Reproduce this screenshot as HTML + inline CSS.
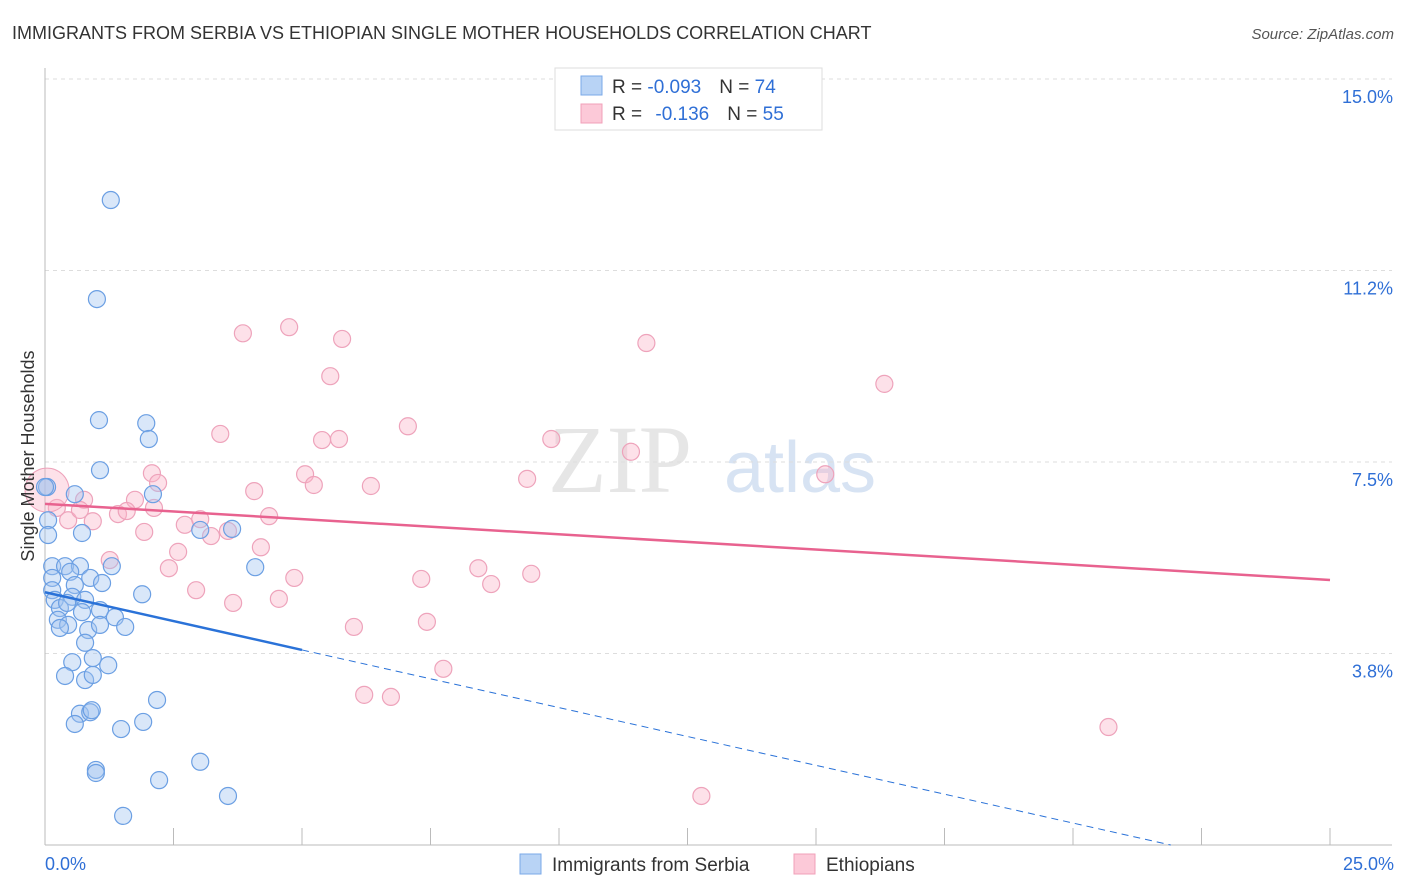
<!DOCTYPE html>
<html><head><meta charset="utf-8"><style>
body{margin:0;background:#fff;font-family:"Liberation Sans",sans-serif}
svg{display:block}
</style></head><body>
<svg width="1406" height="892">
<text x="12" y="39" font-size="18" fill="#333">IMMIGRANTS FROM SERBIA VS ETHIOPIAN SINGLE MOTHER HOUSEHOLDS CORRELATION CHART</text>
<text x="1394" y="39" font-size="15" fill="#555" font-style="italic" text-anchor="end">Source: ZipAtlas.com</text>
<text x="620" y="492" font-size="96" fill="#e6e6e6" font-family="Liberation Serif,serif" text-anchor="middle">ZIP</text>
<text x="800" y="492" font-size="72" fill="#d7e3f3" text-anchor="middle">atlas</text>
<g id="grid"></g>
<g id="axes"></g>
<g id="pts"></g>
<g id="trend"></g>
<text transform="translate(34,456) rotate(-90)" font-size="18" fill="#333" text-anchor="middle">Single Mother Households</text>
<g>
<rect x="555" y="68" width="267" height="62" fill="#fff" stroke="#ddd"/>
<rect x="581" y="76" width="21" height="19" fill="#b8d3f5" stroke="#7aa8e8"/>
<rect x="581" y="104" width="21" height="19" fill="#fcc9d8" stroke="#f1a0b9"/>
<text x="612" y="93" font-size="19" fill="#333">R = <tspan fill="#2f6fd6">-0.093</tspan><tspan dx="18">N = </tspan><tspan fill="#2f6fd6">74</tspan></text>
<text x="612" y="120" font-size="19" fill="#333">R = <tspan dx="8" fill="#2f6fd6">-0.136</tspan><tspan dx="18">N = </tspan><tspan fill="#2f6fd6">55</tspan></text>
</g>
<g>
<rect x="520" y="854" width="21" height="20" fill="#b8d3f5" stroke="#7aa8e8"/>
<text x="552" y="871" font-size="19" fill="#333">Immigrants from Serbia</text>
<rect x="794" y="854" width="21" height="20" fill="#fcc9d8" stroke="#f1a0b9"/>
<text x="826" y="871" font-size="19" fill="#333">Ethiopians</text>
</g>
</svg>
<script>
const yTicks=[3.75,7.5,11.25,15];
const yTickLabels=["3.8%","7.5%","11.2%","15.0%"];
const xTickLabels=["0.0%","25.0%"];
const serbiaX=[1.28,1.01,1.05,1.97,2.02,1.07,2.10,0.58,0.04,0.06,0.06,0.72,3.02,3.64,0.14,0.39,0.68,1.30,4.09,0.14,0.49,0.88,1.11,0.14,0.19,0.58,0.53,0.78,0.29,0.43,1.07,0.72,1.36,1.89,0.25,0.45,0.29,0.84,1.07,1.56,0.78,0.93,1.23,0.53,0.39,0.78,0.93,2.18,0.68,0.88,0.91,0.58,1.48,1.91,0.99,0.99,2.22,3.02,3.56,1.52,0];
const serbiaY=[12.63,10.69,8.32,8.26,7.95,7.34,6.87,6.87,7.01,6.36,6.07,6.11,6.17,6.19,5.46,5.46,5.46,5.46,5.44,5.23,5.35,5.23,5.13,4.99,4.80,5.09,4.86,4.80,4.64,4.74,4.60,4.56,4.46,4.91,4.41,4.31,4.25,4.21,4.31,4.27,3.96,3.66,3.52,3.58,3.31,3.23,3.33,2.84,2.57,2.60,2.64,2.37,2.27,2.41,1.47,1.41,1.27,1.63,0.96,0.57,7.01];
const ethX=[3.85,4.75,5.78,11.70,16.33,5.55,3.41,7.06,5.39,5.72,9.85,11.40,2.08,5.06,2.20,5.23,6.34,9.38,15.18,4.07,1.75,2.12,0.76,0.23,0.45,0.93,1.42,1.59,2.72,3.02,3.23,4.36,3.56,1.93,2.59,4.20,1.26,2.41,4.85,7.32,8.43,8.68,9.46,2.94,3.66,4.55,7.43,6.01,7.75,6.21,6.73,20.69,12.77,0.68];
const ethY=[10.02,10.14,9.91,9.83,9.03,9.18,8.05,8.20,7.93,7.95,7.95,7.70,7.28,7.26,7.09,7.05,7.03,7.17,7.26,6.93,6.76,6.60,6.76,6.60,6.36,6.34,6.48,6.54,6.27,6.38,6.05,6.44,6.15,6.13,5.74,5.83,5.58,5.42,5.23,5.21,5.42,5.11,5.31,4.99,4.74,4.82,4.37,4.27,3.45,2.94,2.90,2.31,0.96,6.56];
const serbiaTrend=[4.95,-0.226];
const ethTrend=[6.68,-0.0596];
const X=v=>45+v/25*1285, Y=v=>845-v/3.75*191.5;
const NS="http://www.w3.org/2000/svg";
function mk(tag,attrs,parent){const e=document.createElementNS(NS,tag);for(const k in attrs)e.setAttribute(k,attrs[k]);document.getElementById(parent).appendChild(e);return e;}
yTicks.forEach((t,i)=>{
 const l=mk('line',{x1:45,x2:1392,y1:Y(t),y2:Y(t),stroke:'#ddd','stroke-dasharray':'4,4'},'grid');
 
 
 const tx=mk('text',{x:1393,y:Y(t)+24,'font-size':18,fill:'#2f6fd6','text-anchor':'end'},'axes');
 tx.textContent=yTickLabels[i];
 
 
});
const ax=mk('line',{x1:45,x2:45,y1:68,y2:845,stroke:'#bbb'},'axes');


const bx=mk('line',{x1:45,x2:1392,y1:845,y2:845,stroke:'#bbb'},'axes');


for(let i=1;i<=10;i++){const t=mk('line',{x1:X(i*2.5),x2:X(i*2.5),y1:828,y2:845,stroke:'#bbb'},'axes');
 
 }
[[0,'start',45],[25,'end',1394]].forEach((a,i)=>{const t=mk('text',{x:a[2],y:870,'font-size':18,fill:'#2f6fd6','text-anchor':a[1]},'axes');t.textContent=xTickLabels[i];
 
 });
ethX.forEach((x,i)=>{const c=mk('circle',{cx:X(x),cy:Y(ethY[i]),r:8.5,fill:'rgba(250,180,200,0.4)',stroke:'#eea3bb','stroke-width':1.2},'pts');
 
 });
const big=mk('circle',{cx:X(0.04),cy:Y(6.95),r:22,fill:'rgba(250,180,200,0.4)',stroke:'#eea3bb'},'pts');


serbiaX.forEach((x,i)=>{const c=mk('circle',{cx:X(x),cy:Y(serbiaY[i]),r:8.5,fill:'rgba(160,195,240,0.4)',stroke:'#6b9fe3','stroke-width':1.2},'pts');
 
 });
const b0=serbiaTrend[0],b1=serbiaTrend[1],xEnd=Math.min(25,-b0/b1);
const s1=mk('line',{x1:X(0),y1:Y(b0),x2:X(5),y2:Y(b0+b1*5),stroke:'#2a72d8','stroke-width':2.5},'trend');


const s2=mk('line',{x1:X(5),y1:Y(b0+b1*5),x2:X(xEnd),y2:Y(b0+b1*xEnd),stroke:'#2a72d8','stroke-width':1,'stroke-dasharray':'7,5'},'trend');


const e1=mk('line',{x1:X(0),y1:Y(ethTrend[0]),x2:X(25),y2:Y(ethTrend[0]+ethTrend[1]*25),stroke:'#e8628f','stroke-width':2.5},'trend');


</script>
</body></html>
